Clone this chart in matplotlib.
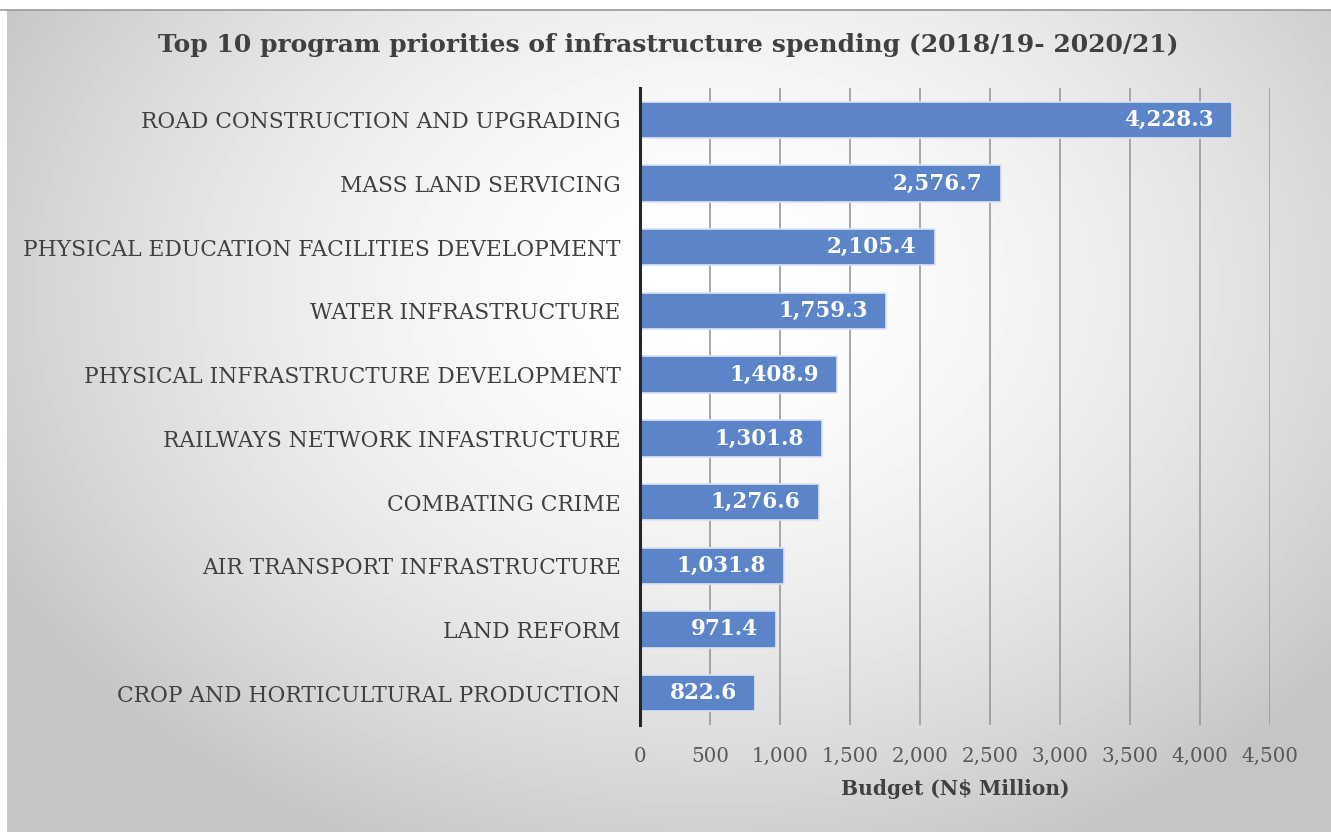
import numpy as np
import matplotlib.pyplot as plt
from matplotlib.ticker import FuncFormatter

programs = [
    "ROAD CONSTRUCTION AND UPGRADING",
    "MASS LAND SERVICING",
    "PHYSICAL EDUCATION FACILITIES DEVELOPMENT",
    "WATER INFRASTRUCTURE",
    "PHYSICAL INFRASTRUCTURE DEVELOPMENT",
    "RAILWAYS NETWORK INFASTRUCTURE",
    "COMBATING CRIME",
    "AIR TRANSPORT INFRASTRUCTURE",
    "LAND REFORM",
    "CROP AND HORTICULTURAL PRODUCTION",
]
budget = [4228.3, 2576.7, 2105.4, 1759.3, 1408.9, 1301.8, 1276.6, 1031.8, 971.4, 822.6]
xticks = [0, 500, 1000, 1500, 2000, 2500, 3000, 3500, 4000, 4500]

plt.rcParams['font.family'] = ['DejaVu Serif']

fig = plt.figure(figsize=(13.31, 8.32), dpi=100)
W, H = 1331, 832

# soft radial backdrop behind the chart
bg = fig.add_axes([7 / W, 0, 1 - 7 / W, 1 - 10 / H])
yy, xx = np.mgrid[0:H - 10, 0:W - 7]
r = np.sqrt(((xx - 700) / 850.0) ** 2 + ((yy - 280) / 650.0) ** 2)
shade = np.clip(1.0 - 0.25 * r ** 1.7, 0.77, 1.0)
bg.imshow(shade, cmap='gray', vmin=0, vmax=1, aspect='auto')
bg.axis('off')

# thin rule under the page header strip
fig.add_artist(plt.Line2D([0, 1], [1 - 10 / H, 1 - 10 / H], color='#9a9a9a', lw=1.2))

ax = fig.add_axes([640 / W, 1 - 725 / H, 630 / W, (725 - 88) / H])
ax.patch.set_alpha(0)
y = np.arange(len(programs))
bars = ax.barh(y, budget, height=0.57, color='#5b84c9', edgecolor='#dbe4f3', linewidth=1.2, zorder=3)
ax.set_ylim(len(programs) - 0.5, -0.5)
ax.set_xlim(0, 4500)
ax.set_xticks(xticks)
ax.xaxis.set_major_formatter(FuncFormatter(lambda v, p: f"{int(v):,}"))
ax.set_yticks(y)
ax.set_yticklabels(programs)
ax.tick_params(axis='y', length=0, pad=14, labelsize=15.7, labelcolor='#404040')
ax.tick_params(axis='x', length=0, pad=16, labelsize=14.3, labelcolor='#595959')
ax.grid(axis='x', color='#999999', linewidth=1.2, zorder=0)
for s in ['top', 'right', 'bottom']:
    ax.spines[s].set_visible(False)
ax.spines['left'].set_linewidth(2.2)
ax.spines['left'].set_color('#262626')
ax.spines['left'].set_zorder(4)

for b, v in zip(bars, budget):
    ax.text(v - 130, b.get_y() + b.get_height() / 2, f"{v:,.1f}", ha='right', va='center',
            color='white', fontsize=15.5, fontweight='bold', zorder=5)

ax.set_xlabel("Budget (N$ Million)", fontsize=14.5, fontweight='bold', color='#404040', labelpad=9)

fig.text(668 / W, 1 - 45 / H, "Top 10 program priorities of infrastructure spending (2018/19- 2020/21)",
         ha='center', va='center', fontsize=18, fontweight='bold', color='#404040')

fig.savefig('out.png', dpi=100)
